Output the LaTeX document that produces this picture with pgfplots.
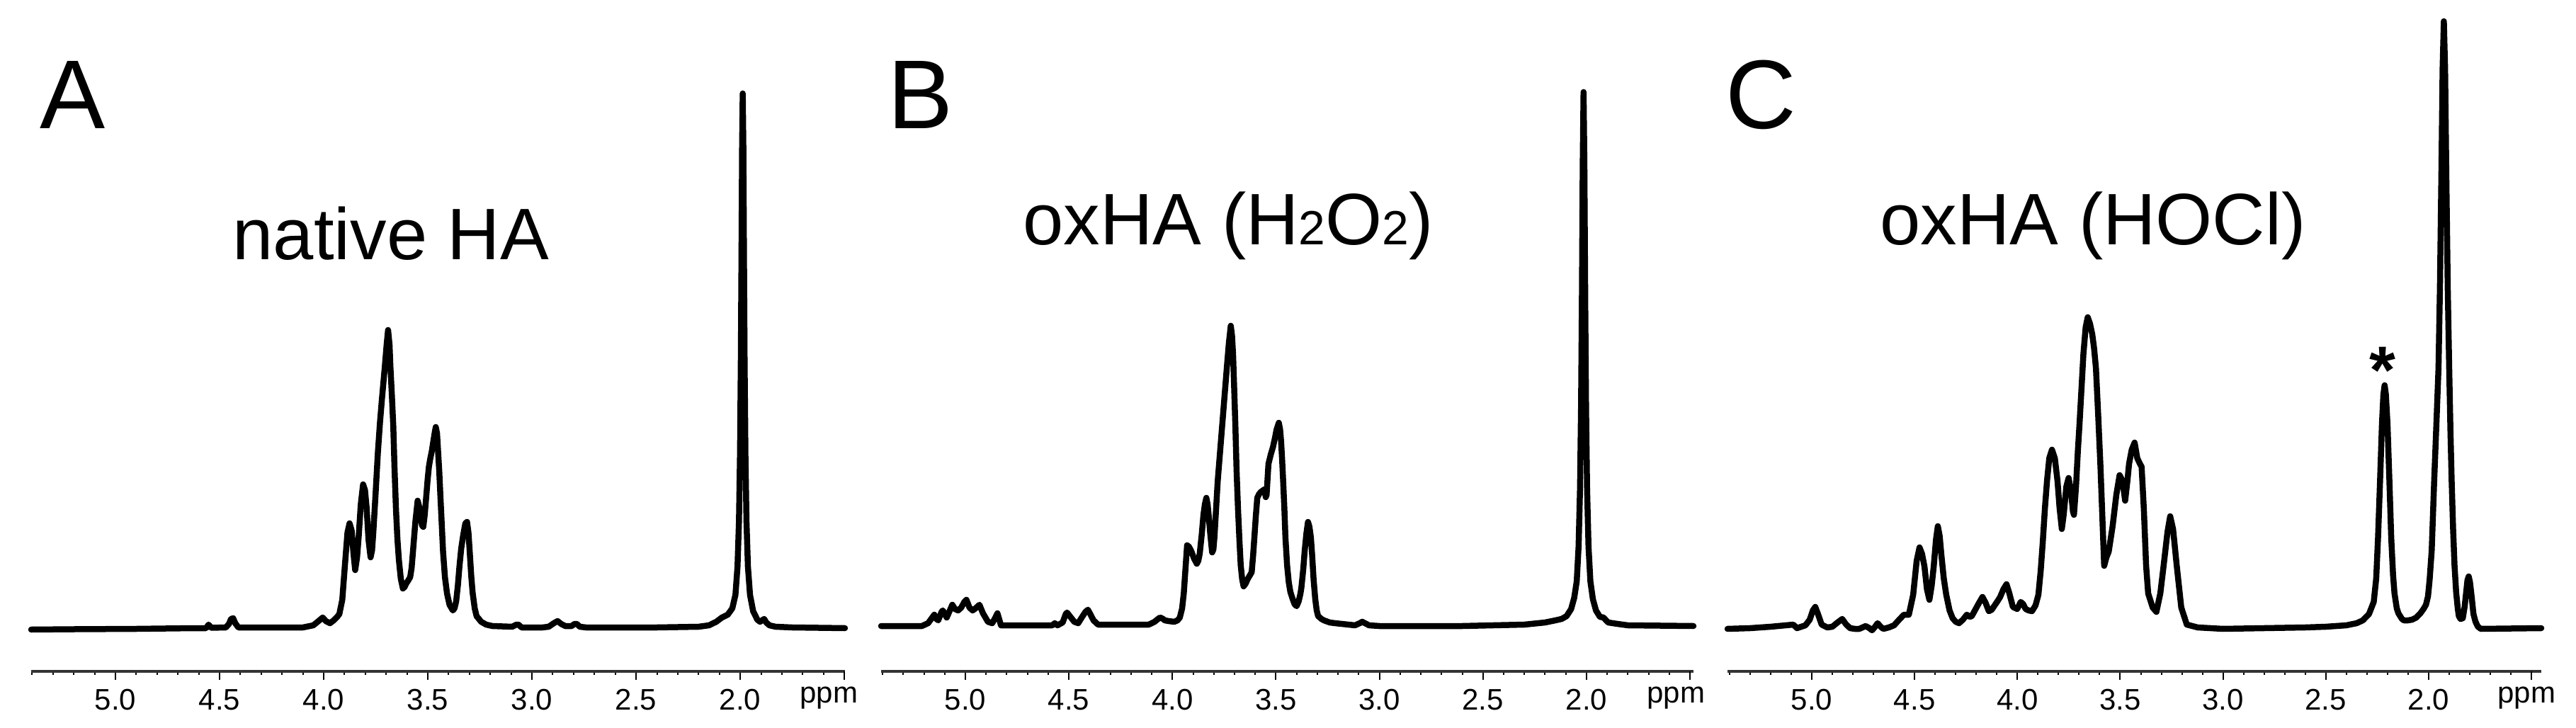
\documentclass[border=0pt]{standalone}
\usepackage{pgfplots}
\pgfplotsset{compat=1.18}
\usepackage{fontspec}
\setmainfont{Liberation Sans}
\newcommand{\fs}[1]{\fontsize{#1}{#1}\selectfont}
\begin{document}
\begin{tikzpicture}
\useasboundingbox (0,0) rectangle (363.7mm,102.7mm);
\pgfplotsset{
  nmr/.style={
    anchor=south west,
    scale only axis,
    x dir=reverse,
    ymax=900,
    axis x line=bottom, axis y line=none,
    axis line style={-, line width=0.35mm, black!80},
    clip=false,
    xtick={2.0,2.5,3.0,3.5,4.0,4.5,5.0},
    minor xtick={1.6,1.7,1.8,1.9,2.1,2.2,2.3,2.4,2.6,2.7,2.8,2.9,3.1,3.2,3.3,3.4,3.6,3.7,3.8,3.9,4.1,4.2,4.3,4.4,4.6,4.7,4.8,4.9,5.1,5.2,5.3,5.4},
    extra x ticks={1.5},
    extra x tick labels={},
    tick align=outside,
    major tick length=1.2mm, minor tick length=0.45mm,
    every tick/.style={black, line width=0.2mm},
    xticklabel style={font=\fs{11.95pt}, anchor=base, yshift=-4.2mm, inner sep=0pt},
    xticklabel shift=0pt,
    /pgf/number format/fixed,
    /pgf/number format/fixed zerofill,
    /pgf/number format/precision=1,
    /pgf/number format/assume math mode=true,
  },
  spec/.style={black, line width=0.85mm, line join=round, line cap=round, mark=none},
}
% ---------------- Panel A ----------------
\begin{axis}[nmr, at={(4.4mm,7.9mm)}, width=114.9mm, height=96.1mm,
  xmin=1.497, xmax=5.405, ymin=-61]
\addplot[spec] coordinates {
(5.405,-2) (5.20,-1.5) (4.90,-1) (4.62,0) (4.565,0) (4.553,5) (4.54,0.5) (4.47,1)
(4.455,6) (4.445,13) (4.435,14) (4.425,7) (4.41,1) (4.10,1) (4.05,4) (4.025,10)
(4.005,15) (3.99,10) (3.97,7) (3.952,11) (3.935,16) (3.925,20) (3.911,40) (3.898,90)
(3.886,135) (3.876,148) (3.866,138) (3.857,105) (3.849,82) (3.84,100) (3.832,130)
(3.822,175) (3.811,203) (3.802,195) (3.794,170) (3.785,125) (3.775,100) (3.768,110)
(3.762,135) (3.751,190) (3.74,248) (3.73,290) (3.721,322) (3.707,368) (3.698,400)
(3.691,421) (3.684,400) (3.68,370) (3.673,330) (3.666,285) (3.66,225) (3.653,167)
(3.646,125) (3.639,96) (3.63,70) (3.62,56) (3.612,58) (3.604,63) (3.595,67) (3.585,72)
(3.578,85) (3.571,110) (3.56,150) (3.549,180) (3.542,172) (3.536,160) (3.528,145)
(3.522,143) (3.515,160) (3.508,185) (3.501,210) (3.495,228) (3.488,240) (3.481,250)
(3.473,265) (3.467,276) (3.462,284) (3.456,275) (3.451,250) (3.445,220) (3.44,188)
(3.433,145) (3.427,108) (3.418,72) (3.408,49) (3.396,33) (3.38,25) (3.372,28)
(3.364,38) (3.356,60) (3.348,88) (3.34,112) (3.331,130) (3.32,148) (3.312,150)
(3.305,135) (3.299,108) (3.292,75) (3.285,50) (3.275,28) (3.266,17) (3.244,9)
(3.22,5) (3.19,3) (3.095,2) (3.075,5) (3.065,5) (3.05,1) (2.95,1) (2.92,2) (2.895,7)
(2.877,10) (2.86,6) (2.84,3) (2.81,3) (2.795,6) (2.785,6) (2.77,2) (2.74,1) (2.4,1)
(2.2,2) (2.15,4) (2.115,9) (2.088,15) (2.06,19) (2.038,28) (2.023,47) (2.013,87)
(2.006,151) (2.001,245) (1.997,377) (1.994,523) (1.991,680) (1.988,755) (1.985,680)
(1.982,523) (1.979,377) (1.975,245) (1.97,151) (1.963,87) (1.953,47) (1.938,24)
(1.918,12) (1.905,9) (1.895,11) (1.885,13) (1.875,8) (1.86,4) (1.83,2) (1.75,1)
(1.497,0)
};
\end{axis}
% ---------------- Panel B ----------------
\begin{axis}[nmr, at={(124.4mm,7.9mm)}, width=114.7mm, height=96.4mm,
  xmin=1.483, xmax=5.407, ymin=-64]
\addplot[spec] coordinates {
(5.407,0) (5.21,0) (5.18,4) (5.155,14) (5.15,16) (5.14,10) (5.131,8) (5.115,20)
(5.109,22) (5.09,12) (5.075,22) (5.063,30) (5.05,24) (5.035,22) (5.02,26) (5.005,34)
(4.995,37) (4.98,26) (4.965,22) (4.955,24) (4.932,30) (4.915,18) (4.891,6) (4.87,4)
(4.855,12) (4.845,18) (4.835,8) (4.828,1) (4.60,1) (4.58,1) (4.568,4) (4.555,1)
(4.53,5) (4.515,17) (4.509,19) (4.49,12) (4.474,6) (4.455,4) (4.44,11) (4.42,20)
(4.408,23) (4.395,16) (4.381,8) (4.359,2) (4.15,2) (4.114,2) (4.086,6) (4.065,11)
(4.059,12) (4.045,10) (4.037,8) (4.018,7) (3.991,6) (3.975,8) (3.964,12) (3.953,25)
(3.945,46) (3.937,80) (3.929,114) (3.92,112) (3.909,106) (3.895,95) (3.882,88)
(3.875,92) (3.868,102) (3.858,130) (3.85,157) (3.843,172) (3.836,181) (3.83,172)
(3.825,157) (3.817,130) (3.808,104) (3.802,108) (3.797,125) (3.789,165) (3.781,205)
(3.77,245) (3.759,285) (3.748,325) (3.737,365) (3.727,400) (3.718,424) (3.712,410)
(3.707,384) (3.702,340) (3.696,285) (3.69,220) (3.683,165) (3.676,120) (3.67,86)
(3.663,66) (3.656,56) (3.646,60) (3.637,66) (3.627,71) (3.617,76) (3.61,100)
(3.604,125) (3.597,155) (3.59,181) (3.582,186) (3.574,189) (3.565,191) (3.555,193)
(3.549,182) (3.545,185) (3.536,229) (3.525,242) (3.514,253) (3.505,265) (3.497,277)
(3.486,287) (3.48,278) (3.475,261) (3.47,235) (3.465,205) (3.459,165) (3.454,125)
(3.446,86) (3.438,62) (3.43,48) (3.419,38) (3.41,31) (3.4,28) (3.39,35) (3.382,45)
(3.377,54) (3.368,80) (3.361,106) (3.353,130) (3.345,147) (3.338,140) (3.331,125)
(3.325,100) (3.318,66) (3.31,38) (3.303,22) (3.296,14) (3.28,10) (3.268,8) (3.24,5)
(3.214,4) (3.15,2) (3.118,1) (3.095,4) (3.083,6) (3.07,4) (3.05,1) (3.0,0) (2.6,0)
(2.3,2) (2.2,5) (2.15,8) (2.12,10) (2.096,14) (2.074,24) (2.059,40) (2.047,63)
(2.038,112) (2.031,194) (2.026,309) (2.022,460) (2.018,650) (2.014,754) (2.010,650)
(2.006,460) (2.002,309) (1.997,194) (1.99,112) (1.981,63) (1.969,38) (1.954,22)
(1.935,13) (1.918,12) (1.895,5) (1.85,3) (1.8,1) (1.483,0)
};
\end{axis}
% ---------------- Panel C ----------------
\begin{axis}[nmr, at={(243.9mm,7.9mm)}, width=114.9mm, height=96.1mm,
  xmin=1.452, xmax=5.41, ymin=-61]
\addplot[spec] coordinates {
(5.41,-1) (5.3,0) (5.2,2) (5.09,5) (5.072,0) (5.031,4) (5.01,12) (4.995,25) (4.983,30)
(4.97,20) (4.952,5) (4.925,1) (4.9,2) (4.875,8) (4.852,13) (4.835,6) (4.814,0)
(4.79,-1) (4.769,-1) (4.738,3) (4.72,0) (4.707,-3) (4.695,1) (4.68,7) (4.665,2)
(4.652,-1) (4.625,1) (4.6,4) (4.575,12) (4.552,19) (4.528,19) (4.507,47) (4.49,95)
(4.476,114) (4.464,105) (4.452,87) (4.44,55) (4.428,40) (4.417,60) (4.407,87)
(4.396,125) (4.387,144) (4.378,130) (4.37,104) (4.358,70) (4.346,47) (4.33,25)
(4.315,14) (4.3,9) (4.284,7) (4.265,12) (4.246,19) (4.232,16) (4.222,17) (4.205,26)
(4.19,34) (4.17,44) (4.155,36) (4.139,24) (4.125,26) (4.111,32) (4.097,38) (4.084,44)
(4.068,55) (4.053,62) (4.04,50) (4.022,30) (4.001,27) (3.984,37) (3.972,34) (3.96,27)
(3.945,25) (3.929,24) (3.912,32) (3.898,47) (3.887,80) (3.877,120) (3.866,170)
(3.856,208) (3.845,240) (3.832,252) (3.818,240) (3.805,208) (3.795,170) (3.784,140)
(3.775,160) (3.762,200) (3.751,212) (3.74,195) (3.73,165) (3.725,160) (3.715,200)
(3.706,250) (3.698,288) (3.688,340) (3.679,387) (3.668,425) (3.658,439) (3.647,430)
(3.636,415) (3.627,395) (3.618,367) (3.607,300) (3.596,228) (3.586,150) (3.578,88)
(3.567,100) (3.556,108) (3.537,144) (3.519,188) (3.503,216) (3.489,208) (3.476,180)
(3.465,208) (3.457,232) (3.444,252) (3.43,262) (3.417,240) (3.404,232) (3.396,228)
(3.385,168) (3.374,88) (3.364,49) (3.342,29) (3.324,23) (3.305,49) (3.289,88)
(3.27,136) (3.257,158) (3.243,140) (3.225,88) (3.203,29) (3.176,5) (3.123,1) (3.0,-1)
(2.8,0) (2.6,1) (2.5,2) (2.40,4) (2.35,7) (2.32,11) (2.29,20) (2.267,37) (2.255,70)
(2.246,128) (2.236,210) (2.227,288) (2.22,330) (2.214,343) (2.208,330) (2.2,288)
(2.191,210) (2.182,128) (2.173,75) (2.166,49) (2.155,28) (2.147,21) (2.13,13)
(2.12,11) (2.1,11) (2.08,12) (2.06,15) (2.04,21) (2.025,27) (2.013,33) (2.003,45)
(1.995,69) (1.985,110) (1.973,208) (1.962,290) (1.952,367) (1.945,480) (1.938,640)
(1.932,790) (1.926,857) (1.920,790) (1.914,640) (1.907,480) (1.900,367) (1.894,280)
(1.888,208) (1.881,140) (1.874,88) (1.866,50) (1.858,27) (1.853,17) (1.845,13)
(1.834,14) (1.825,30) (1.818,49) (1.811,68) (1.805,73) (1.799,65) (1.791,45)
(1.782,20) (1.772,9) (1.76,2) (1.746,-1) (1.452,0)
};
\end{axis}
% ---------------- Texts ----------------
\node[anchor=base west, inner sep=0pt] at (5.6mm,84.5mm) {\fs{39.3pt}A};
\node[anchor=base west, inner sep=0pt] at (125.3mm,84.5mm) {\fs{39.3pt}B};
\node[anchor=base west, inner sep=0pt] at (243.6mm,84.5mm) {\fs{39.3pt}C};
\node[anchor=base west, inner sep=0pt] at (32.8mm,66.0mm) {\fs{29.3pt}native HA};
\node[anchor=base west, inner sep=0pt] at (144.4mm,68.1mm) {\fs{29.3pt}oxHA (H{\fs{19.3pt}2}O{\fs{19.3pt}2})};
\node[anchor=base west, inner sep=0pt] at (265.4mm,68.1mm) {\fs{29.3pt}oxHA (HOCl)};
\node[anchor=base, inner sep=0pt] at (336.4mm,47.2mm) {\fs{27pt}\bfseries *};
\node[anchor=base east, inner sep=0pt] at (121.2mm,3.5mm) {\fs{11.95pt}ppm};
\node[anchor=base east, inner sep=0pt] at (240.8mm,3.5mm) {\fs{11.95pt}ppm};
\node[anchor=base east, inner sep=0pt] at (360.9mm,3.5mm) {\fs{11.95pt}ppm};
\end{tikzpicture}
\end{document}
